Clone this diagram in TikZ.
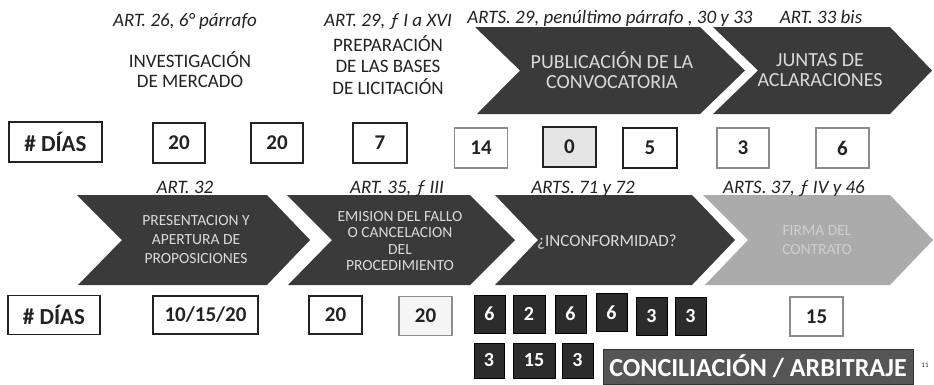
\documentclass[tikz,border=0pt]{standalone}
\usepackage{fontspec}
\setmainfont{Carlito}
\definecolor{chevdark}{HTML}{3A3A3A}
\definecolor{chevlight}{HTML}{ABABAB}
\definecolor{chevtext}{HTML}{DADADA}
\definecolor{chevltext}{HTML}{CFCFCF}
\definecolor{ink}{HTML}{222222}
\definecolor{boxdark}{HTML}{2C2C2C}
\definecolor{concfill}{HTML}{555555}
\begin{document}
\begin{tikzpicture}[x=1pt,y=-1pt,
  art/.style={font=\fontsize{19}{21}\selectfont\itshape, text=ink, inner sep=0pt, anchor=base},
  ttl/.style={font=\fontsize{19}{20}\selectfont, align=center, text=ink, inner sep=0pt},
  chtxt/.style={font=\fontsize{20}{20}\selectfont, align=center, text=chevtext, inner sep=0pt},
  chtxtsm/.style={font=\fontsize{15.5}{19}\selectfont, align=center, text=chevtext, inner sep=0pt},
  daybox/.style={draw=ink, line width=1.1pt, fill=white, inner sep=0pt,
     font=\fontsize{21}{22}\selectfont\bfseries, text=ink},
  lightbox/.style={daybox, draw=black!45},
  darkbox/.style={fill=boxdark, draw=black, line width=0.6pt, inner sep=0pt,
     minimum width=31pt, minimum height=38pt,
     font=\fontsize{20}{20}\selectfont\bfseries, text=white}]
\useasboundingbox (0,0) rectangle (934,384);
\fill[white] (0,0) rectangle (934,384);

% ---- row 1 chevrons
\fill[chevdark] (475,27) -- (700,27) -- (745,70.5) -- (700,114) -- (477,114) -- (520,70.5) -- cycle;
\fill[chevdark] (713,27) -- (890,27) -- (932,70.5) -- (890,114) -- (713,114) -- (758,70.5) -- cycle;

% ---- row 2 chevrons
\fill[chevdark] (77,195) -- (267,195) -- (310,240) -- (267,285) -- (78,285) -- (122,240) -- cycle;
\fill[chevdark] (287,195) -- (470,195) -- (515,240) -- (470,285) -- (288,285) -- (332,240) -- cycle;
\fill[chevdark] (495,195) -- (692,195) -- (735,240) -- (692,285) -- (495,285) -- (538,240) -- cycle;
\fill[chevlight] (703,195) -- (890,195) -- (933,240) -- (890,285) -- (705,285) -- (748,240) -- cycle;

% ---- row 1 labels
\node[art] (a1) at (185,26) {ART. 26, 6° párrafo};
\node[art] (a2) at (388,26) {ART. 29, ƒ I a XVI};
\node[art] (a3) at (610,23) {ARTS. 29, penúltimo párrafo , 30 y 33};
\node[art] (a4) at (821,23) {ART. 33 bis};
\node[ttl] (t1) at (190,70) {INVESTIGACIÓN\\DE MERCADO};
\node[ttl, font=\fontsize{19}{21.5}\selectfont] (t2) at (388,65) {PREPARACIÓN\\DE LAS BASES\\DE LICITACIÓN};
\node[chtxt] (c1) at (612,70) {PUBLICACIÓN DE LA\\CONVOCATORIA};
\node[chtxt] (c2) at (820,70) {JUNTAS DE\\ACLARACIONES};

% ---- row 1 boxes
\node[daybox, minimum width=93pt, minimum height=40pt, font=\fontsize{23}{24}\selectfont\bfseries] (dias1) at (55.5,142) {\# DÍAS};
\node[daybox, minimum width=52pt, minimum height=40pt] (r1) at (179,143) {20};
\node[daybox, minimum width=52pt, minimum height=40pt] (r2) at (277,143) {20};
\node[daybox, minimum width=54pt, minimum height=40pt] (r3) at (380,143) {7};
\node[lightbox, minimum width=53pt, minimum height=40pt] (r4) at (481,148) {14};
\node[daybox, fill=black!10, minimum width=53pt, minimum height=40pt] (r5) at (569.5,147) {0};
\node[daybox, minimum width=54pt, minimum height=40pt] (r6) at (650,148) {5};
\node[lightbox, minimum width=52pt, minimum height=40pt] (r7) at (743,148) {3};
\node[lightbox, minimum width=53pt, minimum height=40pt] (r8) at (842.5,148) {6};

% ---- row 2 labels
\node[art] (a5) at (185,193) {ART. 32};
\node[art] (a6) at (397,193) {ART. 35, ƒ III};
\node[art] (a7) at (583,193) {ARTS. 71 y 72};
\node[art] (a8) at (794,193) {ARTS. 37, ƒ IV y 46};
\node[chtxtsm] (cA) at (196,240) {PRESENTACION Y\\APERTURA DE\\PROPOSICIONES};
\node[chtxtsm, font=\fontsize{15.5}{16.5}\selectfont] (cB) at (400,241) {EMISION DEL FALLO\\O CANCELACION\\DEL\\PROCEDIMIENTO};
\node[chtxtsm, font=\fontsize{17}{19}\selectfont] (cC) at (607,242) {¿INCONFORMIDAD?};
\node[chtxtsm, text=chevltext] (cD) at (817,240) {FIRMA DEL\\CONTRATO};

% ---- row 2 boxes
\node[daybox, minimum width=92pt, minimum height=39pt, font=\fontsize{23}{24}\selectfont\bfseries] (dias2) at (54,315) {\# DÍAS};
\node[daybox, minimum width=105pt, minimum height=38pt] (s1) at (205.5,315) {10/15/20};
\node[daybox, minimum width=53pt, minimum height=38pt] (s2) at (335.5,315) {20};
\node[lightbox, fill=black!4, minimum width=53pt, minimum height=39pt] (s3) at (425.5,316) {20};
\node[darkbox] (d1) at (489.5,314) {6};
\node[darkbox, minimum width=32pt] (d2) at (529,314) {2};
\node[darkbox] (d3) at (570.5,314) {6};
\node[darkbox] (d4) at (611.5,312.5) {6};
\node[darkbox] (d5) at (651.5,316.5) {3};
\node[darkbox] (d6) at (690.5,316.5) {3};
\node[lightbox, minimum width=53pt, minimum height=39pt] (s4) at (816.5,316.5) {15};
\node[darkbox, minimum width=30pt, minimum height=35pt] (e1) at (489,360.5) {3};
\node[darkbox, minimum width=42pt, minimum height=35pt] (e2) at (534,360.5) {15};
\node[darkbox, minimum width=31pt, minimum height=35pt] (e3) at (577.5,360.5) {3};
\node[fill=concfill, draw=black!80, line width=1pt, inner sep=0pt,
      minimum width=310pt, minimum height=35pt,
      font=\fontsize{26}{28}\selectfont\bfseries, text=white] (conc) at (758,366.5) {CONCILIACIÓN / ARBITRAJE};
\node[font=\fontsize{7}{8}\selectfont, text=ink, inner sep=0pt] (pg) at (925,365) {11};
\end{tikzpicture}
\end{document}
